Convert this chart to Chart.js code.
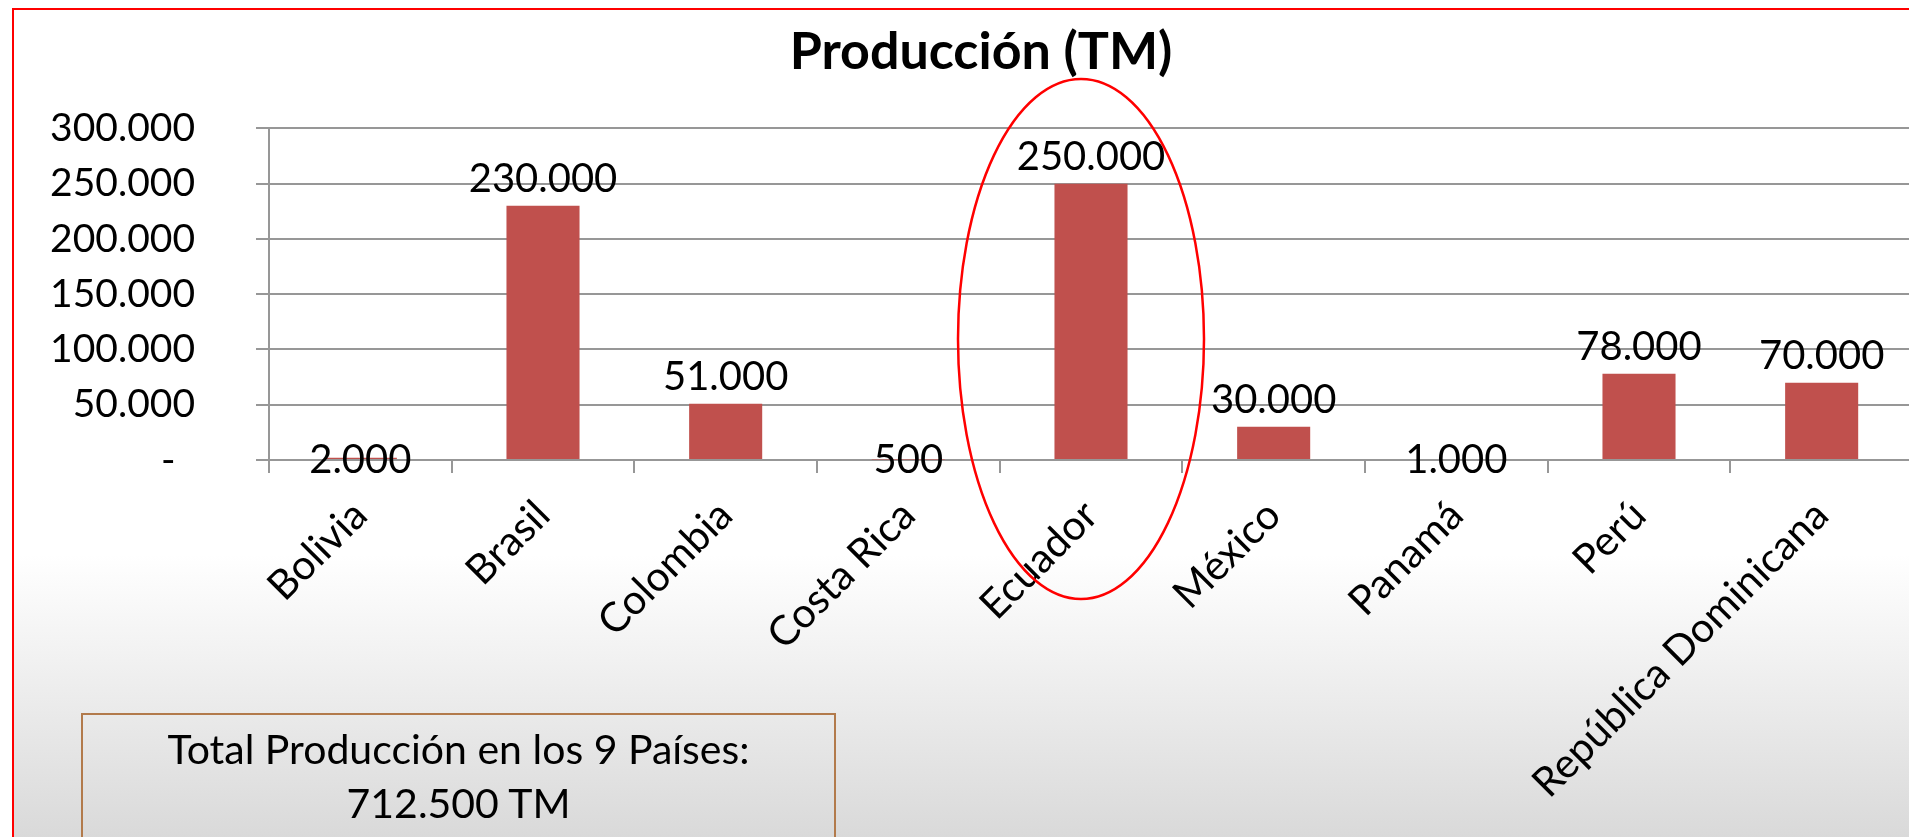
<!DOCTYPE html>
<html>
<head>
<meta charset="utf-8">
<script src="https://cdn.jsdelivr.net/npm/chart.js@4/dist/chart.umd.min.js"></script>
<style>
html,body{margin:0;padding:0;width:1909px;height:837px;overflow:hidden;background:#fff;}
#frame{position:absolute;left:12px;top:8px;width:1920px;height:900px;box-sizing:border-box;border:2.5px solid #ff0000;
  background:linear-gradient(to bottom,#ffffff 0px,#ffffff 545px,#d9d9d9 829px,#d9d9d9 900px);}
#chartWrap{position:absolute;left:0;top:0;width:1930px;height:837px;}
#box{position:absolute;left:81px;top:713px;width:755px;height:200px;box-sizing:border-box;border:2.5px solid #b27a4b;
  font-family:Lato,sans-serif;font-size:41px;line-height:54px;text-align:center;padding-top:7px;color:#000;}
</style>
</head>
<body>
<div id="frame"></div>
<div id="chartWrap"><canvas id="c" width="1930" height="837"></canvas></div>
<div id="box">Total Producción en los 9 Países:<br>712.500 TM</div>
<script>
const categories = ['Bolivia','Brasil','Colombia','Costa Rica','Ecuador','México','Panamá','Perú','República Dominicana'];
const production = [2000, 230000, 51000, 500, 250000, 30000, 1000, 78000, 70000];
const yTickValues = [0, 50000, 100000, 150000, 200000, 250000, 300000];
const chartTitle = 'Producción (TM)';
const highlightIndex = 4;

function fmt(v){ return String(v).replace(/\B(?=(\d{3})+(?!\d))/g, '.'); }

const FONT = 'Lato';
const GRID = '#979797';

const dataLabels = {
  id: 'dataLabels',
  afterDatasetsDraw(chart){
    const ctx = chart.ctx;
    const meta = chart.getDatasetMeta(0);
    const y0 = chart.scales.y.getPixelForValue(0);
    ctx.save();
    ctx.font = '40px ' + FONT;
    ctx.fillStyle = '#000';
    ctx.textAlign = 'center';
    ctx.textBaseline = 'middle';
    meta.data.forEach((bar, i) => {
      const h = y0 - bar.y;
      const y = h < 12 ? y0 : bar.y - 27;
      ctx.fillText(fmt(production[i]), bar.x, y);
    });
    ctx.restore();
  }
};

const highlight = {
  id: 'highlight',
  afterDraw(chart){
    const ctx = chart.ctx;
    const cx = chart.scales.x.getPixelForValue(highlightIndex) - 10;
    ctx.save();
    ctx.beginPath();
    ctx.ellipse(cx, 339, 123, 260, 0, 0, Math.PI * 2);
    ctx.strokeStyle = '#ff0000';
    ctx.lineWidth = 2.5;
    ctx.stroke();
    ctx.restore();
  }
};

new Chart(document.getElementById('c'), {
  type: 'bar',
  data: {
    labels: categories,
    datasets: [{
      data: production,
      backgroundColor: '#C0504D',
      barPercentage: 0.8,
      categoryPercentage: 0.5
    }]
  },
  options: {
    responsive: false,
    animation: false,
    devicePixelRatio: 1,
    layout: { padding: { left: 49, right: 17, top: 0, bottom: 0 } },
    plugins: {
      legend: { display: false },
      tooltip: { enabled: false },
      title: {
        display: true,
        text: chartTitle,
        color: '#000',
        font: { family: FONT, size: 52, weight: 'bold', lineHeight: 1.2 },
        padding: { top: 21, bottom: 45 }
      }
    },
    scales: {
      x: {
        afterFit(s){ s.height = 377; },
        ticks: {
          font: { family: FONT, size: 41 },
          color: '#000',
          minRotation: 45,
          maxRotation: 45,
          autoSkip: false,
          padding: 18
        },
        grid: { drawOnChartArea: false, drawTicks: true, tickLength: 13, color: GRID, lineWidth: 2 },
        border: { display: true, color: GRID, width: 2 }
      },
      y: {
        min: 0,
        max: 300000,
        afterBuildTicks(s){ s.ticks = yTickValues.map(v => ({ value: v })); },
        afterFit(s){ s.width = 220; },
        ticks: {
          font: { family: FONT, size: 39 },
          color: '#000',
          padding: 61,
          callback: v => v === 0 ? '-\u2002' : fmt(v)
        },
        grid: { color: GRID, lineWidth: 2, tickLength: 13, drawTicks: true },
        border: { display: true, color: GRID, width: 2 }
      }
    }
  },
  plugins: [dataLabels, highlight]
});
</script>
</body>
</html>
